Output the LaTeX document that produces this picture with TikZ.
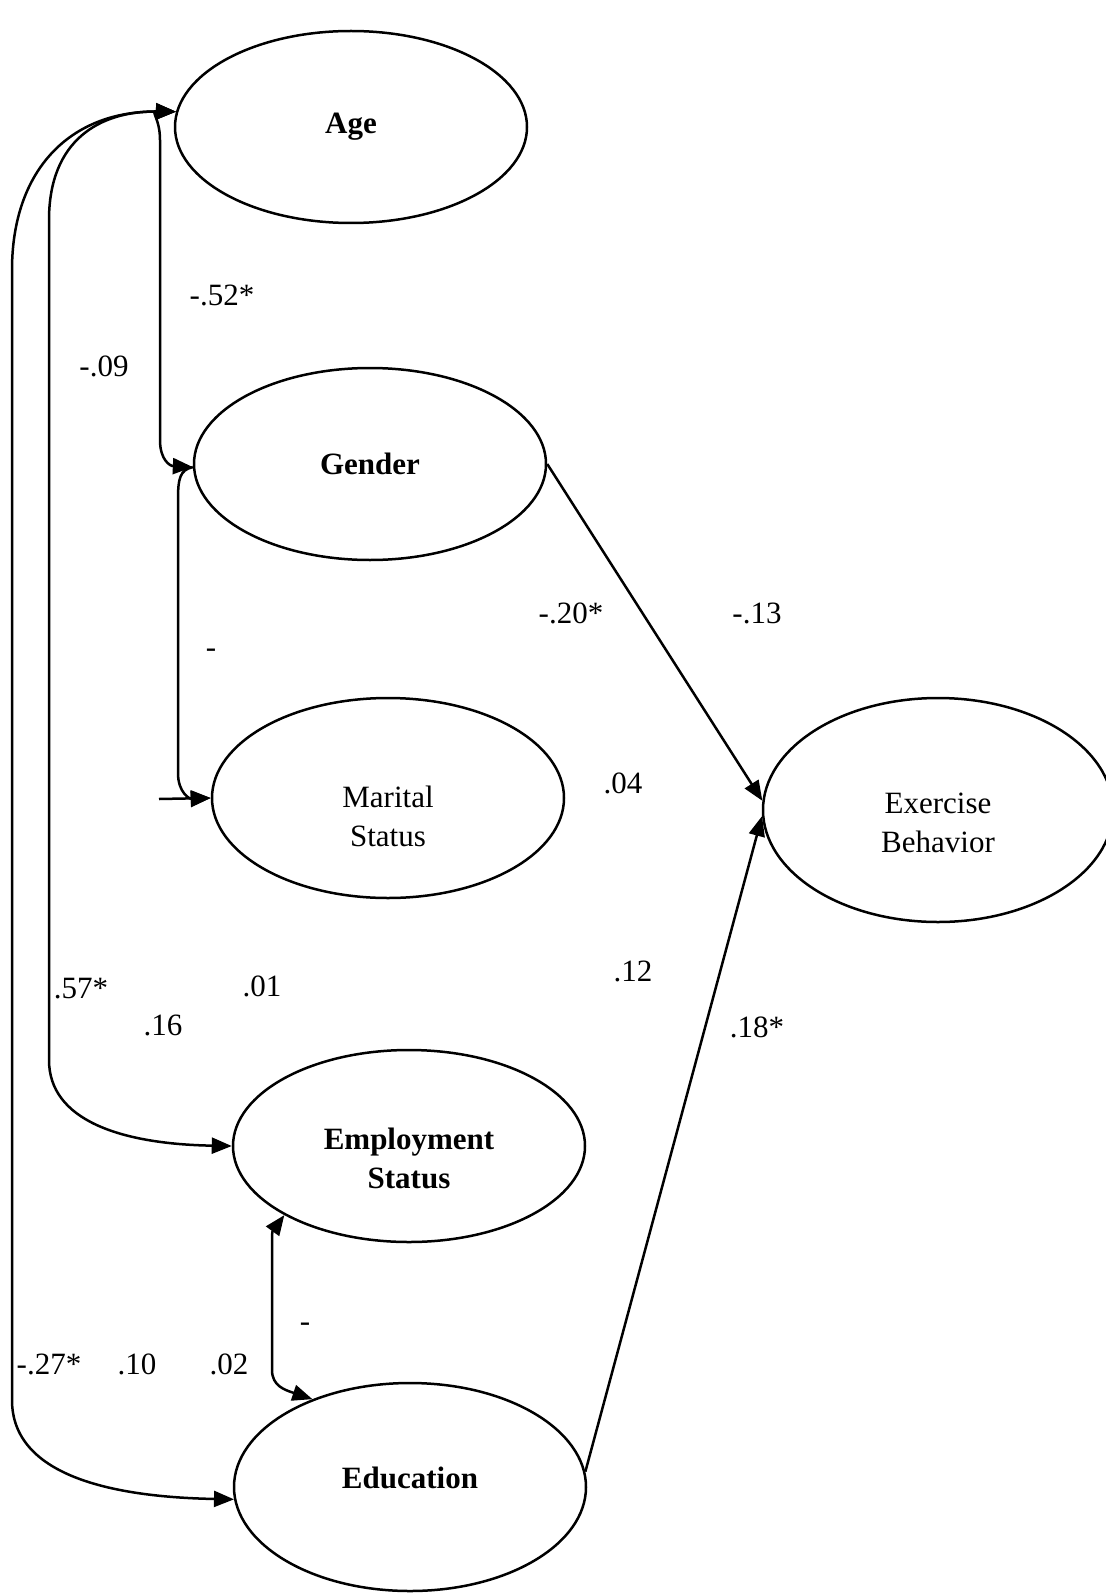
\documentclass[tikz,border=0pt]{standalone}
\usepackage{fontspec}
\setmainfont{Liberation Serif}
\usetikzlibrary{shapes.geometric, arrows.meta}

\begin{document}
\begin{tikzpicture}[x=0.5pt, y=-0.5pt, line width=1.25pt,
	var/.style={draw, ellipse, minimum width=176pt, minimum height=96pt, align=center, font=\fontsize{15.5}{19.5}\selectfont},
	varb/.style={var, font=\fontsize{15.5}{19.5}\selectfont\bfseries},
	coef/.style={inner sep=0pt, font=\fontsize{15.5}{19}\selectfont},
	tip/.style={-{Triangle[length=10pt,width=8pt]}},
	both/.style={{Triangle[length=10pt,width=8pt]}-{Triangle[length=10pt,width=8pt]}}]
	\useasboundingbox (0,0) rectangle (1105,1594);
	% Variables, paths and coefficients:
	\node[varb] (age) at (351,127) {Age};
	\node[varb] (gender) at (370,464) {Gender};
	\node[var, minimum height=100pt] (marital) at (388,798) {\rule{0pt}{29pt}Marital\\Status};
	\node[var, minimum width=175pt, minimum height=112pt] (exercise) at (938,810) {\rule{0pt}{23pt}Exercise\\Behavior};
	\node[varb] (employ) at (409,1146) {\rule{0pt}{23pt}Employment\\Status};
	\node[varb, minimum height=104pt] (education) at (410,1487) {\rule[-9pt]{0pt}{9pt}Education};
	\coordinate (stub) at (159,799);

	\draw[both] (age.175) .. controls (70,111) and (12,170) .. (12,270) -- (12,1400) .. controls (12,1475) and (110,1497) .. (education.184);
	\draw[both] (age.175) .. controls (100,111) and (49,140) .. (49,220) -- (49,1060) .. controls (49,1120) and (120,1144) .. (employ.180);
	\draw[both] (age.175) .. controls (150,111) and (160,118) .. (160,140) -- (160,440) .. controls (160,460) and (170,466) .. (gender.181);
	\draw[tip] (gender.181) .. controls (180,470) and (178,478) .. (178,500) -- (178,773) .. controls (178,793) and (190,799) .. (marital.west);
	\draw[tip] (stub) -- (marital.west);
	\draw[both] (employ.209) .. controls (272,1232) .. (272,1256) -- (272,1370) .. controls (272,1386) and (285,1390) .. (education.138);
	\draw[tip] (gender.east) -- (exercise.177);
	\draw[tip] (education.5) -- (exercise.182);

	\node[coef] (kAgeGen) at (222,295) {-.52*};
	\node[coef] (kAgeMar) at (104,366) {-.09};
	\node[coef] (kGenEx) at (571,613) {-.20*};
	\node[coef] (kMarEx) at (757,613) {-.13};
	\node[coef] (kGenMar) at (211,653) {-};
	\node[coef] (kEmpEx) at (623,783) {.04};
	\node[coef] (kAgeEmp) at (81,989) {.57*};
	\node[coef] (kMarEmp) at (262,986) {.01};
	\node[coef] (kGenEmp) at (163,1025) {.16};
	\node[coef] (kAgeEx) at (633,971) {.12};
	\node[coef] (kEduEx) at (757,1027) {.18*};
	\node[coef] (kEmpEdu) at (305,1327) {-};
	\node[coef] (kAgeEdu) at (49,1364) {-.27*};
	\node[coef] (kGenEdu) at (137,1364) {.10};
	\node[coef] (kMarEdu) at (229,1364) {.02};
\end{tikzpicture}
\end{document}
